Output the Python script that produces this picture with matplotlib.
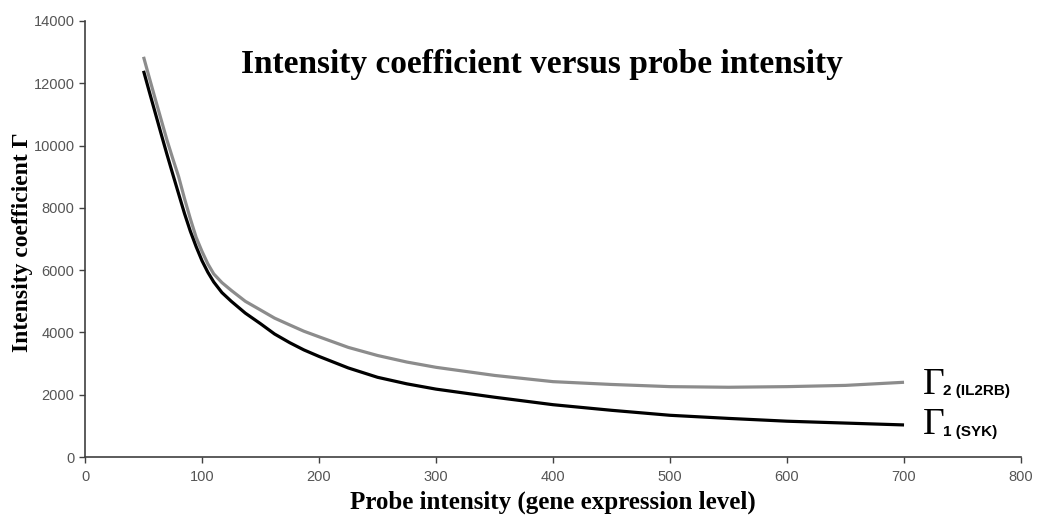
import matplotlib.pyplot as plt

# probe intensity (x) and intensity coefficients
probe = [50, 55, 60, 65, 70, 75, 80, 85, 90, 95, 100, 105, 110, 117, 125,
         137, 150, 162, 175, 187, 200, 225, 250, 275, 300, 350, 400, 450,
         500, 550, 600, 650, 700]

gamma_syk = [12400, 11720, 11050, 10380, 9720, 9080, 8450, 7820, 7250, 6750,
             6300, 5930, 5620, 5280, 5000, 4620, 4280, 3950, 3670, 3440,
             3230, 2860, 2560, 2350, 2180, 1920, 1680, 1500, 1340, 1240,
             1150, 1090, 1030]

gamma_il2rb = [12850, 12170, 11500, 10840, 10180, 9580, 9000, 8300, 7650,
               7050, 6600, 6200, 5880, 5600, 5350, 5000, 4720, 4460, 4240,
               4040, 3860, 3520, 3260, 3050, 2880, 2620, 2420, 2330, 2260,
               2240, 2260, 2300, 2400]

x_ticks = [0, 100, 200, 300, 400, 500, 600, 700, 800]
y_ticks = [0, 2000, 4000, 6000, 8000, 10000, 12000, 14000]

fig = plt.figure(figsize=(10.37, 5.21), dpi=100)
ax = fig.add_axes([0.082, 0.1228, 0.9026, 0.8369])

ax.plot(probe, gamma_il2rb, color='#8c8c8c', lw=2.3, solid_capstyle='butt')
ax.plot(probe, gamma_syk, color='black', lw=2.3, solid_capstyle='butt')

ax.set_xlim(0, 800)
ax.set_ylim(0, 14000)
ax.set_xticks(x_ticks)
ax.set_yticks(y_ticks)

for s in ['top', 'right']:
    ax.spines[s].set_visible(False)
for s in ['left', 'bottom']:
    ax.spines[s].set_color('#404040')
    ax.spines[s].set_linewidth(1.2)

ax.tick_params(direction='out', length=4, width=1, color='#404040',
               labelcolor='#555555', labelsize=10.5)
for lab in ax.get_xticklabels() + ax.get_yticklabels():
    lab.set_family('Liberation Sans')
ax.tick_params(axis='x', pad=5)

serif = 'Liberation Serif'
fig.text(0.523, 0.876, 'Intensity coefficient versus probe intensity',
         family=serif, weight='bold', fontsize=24, ha='center', va='center')
fig.text(0.533, 0.035, 'Probe intensity (gene expression level)',
         family=serif, weight='bold', fontsize=18, ha='center', va='center')
fig.text(0.022, 0.535, 'Intensity coefficient \u0393',
         family=serif, weight='bold', fontsize=17, ha='center', va='center',
         rotation=90)

# curve labels
fig.text(0.890, 0.262, '\u0393', family=serif, fontsize=27, ha='left', va='center')
fig.text(0.909, 0.250, '2 (IL2RB)', family='Liberation Sans', weight='bold',
         fontsize=11, ha='left', va='center')
fig.text(0.890, 0.185, '\u0393', family=serif, fontsize=27, ha='left', va='center')
fig.text(0.909, 0.171, '1 (SYK)', family='Liberation Sans', weight='bold',
         fontsize=11, ha='left', va='center')

fig.savefig('out.png', dpi=100)
